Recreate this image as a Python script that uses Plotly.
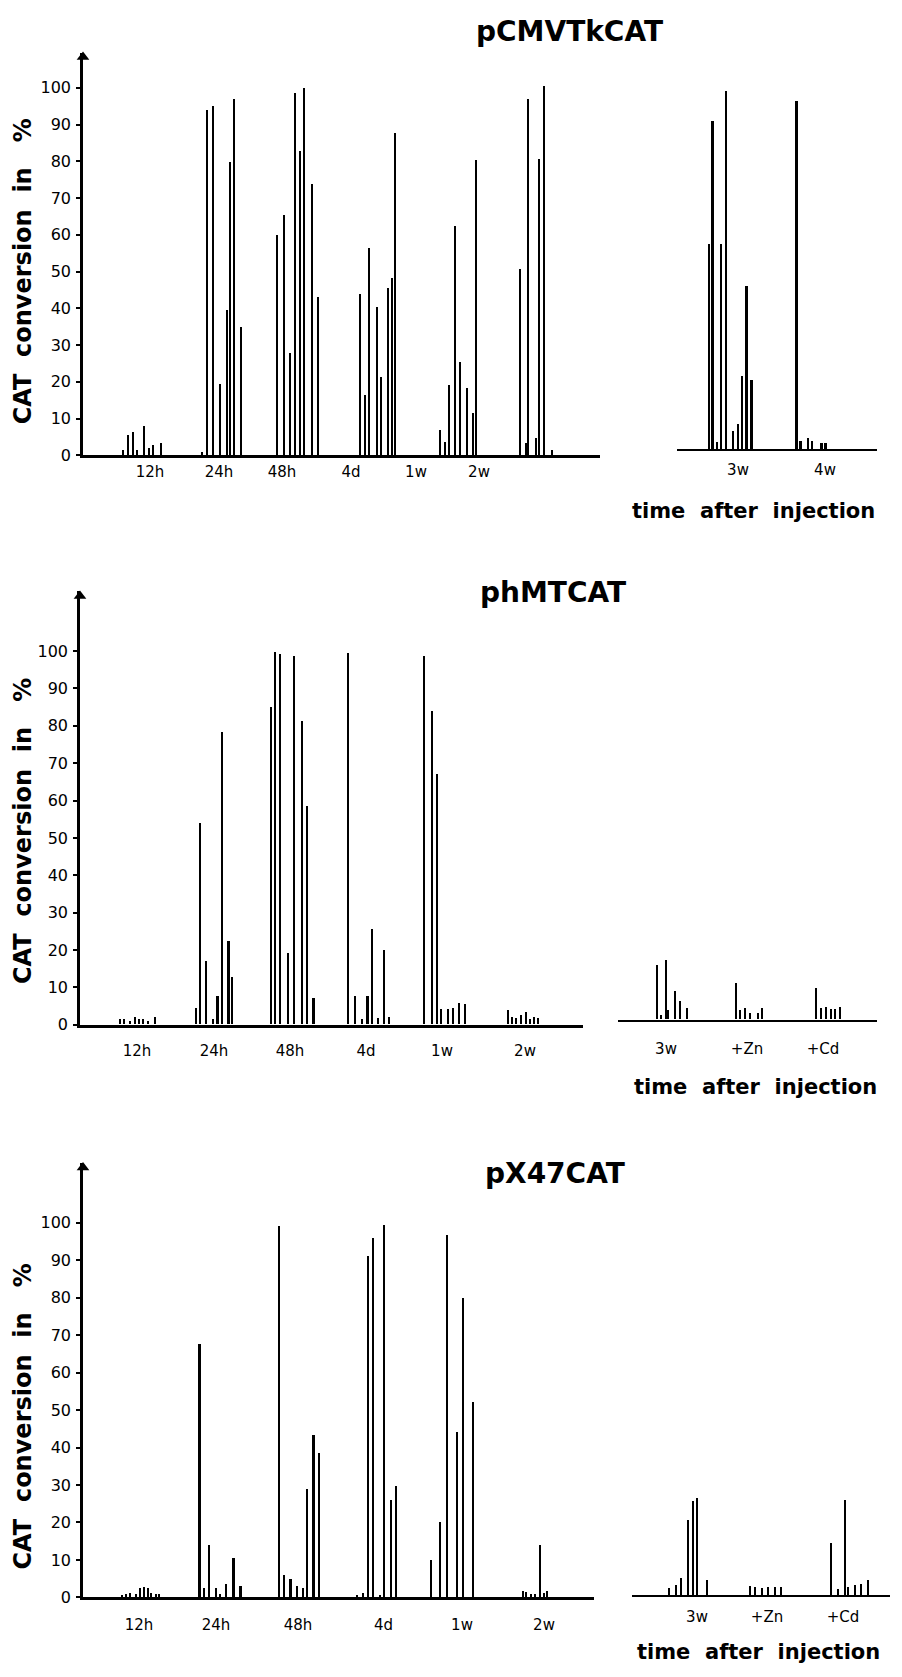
import plotly.graph_objects as go

# ---------------- DATA ----------------
# Panel 1: pCMVTkCAT  (positions = sample position along axis, values = % CAT conversion)
p1_title = "pCMVTkCAT"
p1_main_pos = [40, 45, 50, 54, 61, 66, 70, 78,
               119, 124, 130, 137, 144, 147, 151, 158,
               194, 201, 207, 212, 217, 221, 229, 235,
               277, 282, 286, 294, 298, 305, 309, 312,
               357, 362, 366, 372, 377, 384, 390, 393,
               437, 443, 445, 453, 456, 461, 469]
p1_main_val = [1.5, 5.5, 6.5, 1.5, 8, 2, 3, 3.5,
               1, 94, 95, 19.5, 39.5, 80, 97, 35,
               60, 65.5, 28, 98.6, 83, 100, 74, 43.2,
               44, 16.4, 56.6, 40.5, 21.4, 45.7, 48.2, 87.7,
               7, 3.6, 19.2, 62.5, 25.4, 18.5, 11.5, 80.5,
               50.8, 3.4, 97, 4.7, 80.8, 100.5, 1.4]
p1_main_labels = ["12h", "24h", "48h", "4d", "1w", "2w"]
p1_main_label_pos = [67, 136, 199, 268, 333, 396]
p1_right_pos = [32, 35.7, 40, 44, 49, 56, 61, 65, 69.7, 74.7,
                119.7, 123.7, 131, 135, 144.7, 148.7]
p1_right_val = [56, 89.5, 2, 56, 97.5, 5, 7, 20, 44.5, 19,
                95, 2.3, 3.2, 2.3, 1.8, 1.8]
p1_right_labels = ["3w", "4w"]
p1_right_label_pos = [61, 148]

# Panel 2: phMTCAT
p2_title = "phMTCAT"
p2_main_pos = [40, 44, 50, 55, 59, 63, 68, 75,
               116, 120, 126, 133, 137.5, 142, 148.5, 152,
               191, 195, 200, 208, 214, 222, 227, 233.5,
               268, 275, 282, 287.5, 292, 298, 304, 309,
               344, 352, 357, 361, 368, 373, 379, 385,
               428, 432, 436, 441, 446, 450, 454, 458]
p2_main_val = [1.5, 1.5, 1, 2, 1.5, 1.5, 1, 2,
               4.5, 54, 17, 1.5, 7.5, 78.3, 22.2, 12.7,
               85, 99.7, 99.1, 19, 98.5, 81.2, 58.5, 7,
               99.3, 7.5, 1.5, 7.5, 25.4, 1.6, 20, 2,
               98.7, 83.8, 67.1, 4, 4, 4.3, 5.7, 5.5,
               3.8, 1.9, 1.7, 2.4, 3.3, 1.4, 1.9, 1.6]
p2_main_labels = ["12h", "24h", "48h", "4d", "1w", "2w"]
p2_main_label_pos = [57, 134, 210, 286, 362, 445]
p2_right_pos = [39, 43, 48, 50, 57, 62, 69,
                118, 122, 127, 132, 140, 144,
                198, 203, 208, 213, 217, 222]
p2_right_val = [14.5, 1.2, 16, 2.5, 7.5, 5, 3,
                9.8, 2.5, 3, 1.6, 1.6, 3,
                8.5, 3.1, 3.4, 2.8, 2.8, 3.2]
p2_right_labels = ["3w", "+Zn", "+Cd"]
p2_right_label_pos = [48, 129, 205]

# Panel 3: pX47CAT
p3_title = "pX47CAT"
p3_main_pos = [39, 43, 47, 53, 57, 61, 65, 68, 73, 76,
               116.6, 121, 126, 133, 137, 143, 150.6, 157.7,
               196, 201, 207.5, 214, 220, 224, 230.5, 236,
               274, 280, 285, 290, 297, 301, 308, 313,
               348, 357, 364, 374, 380, 390,
               440, 443, 448, 452, 457, 461, 464]
p3_main_val = [0.7, 0.9, 1.2, 1, 2.5, 2.7, 2.5, 1.3, 0.8, 0.8,
               67.5, 2.5, 14, 2.5, 0.8, 3.5, 10.5, 3,
               99.1, 6, 5, 3, 2.5, 29, 43.4, 38.4,
               0.6, 1.2, 91, 95.8, 0.7, 99.3, 25.9, 29.7,
               10, 20, 96.7, 44.1, 80, 52.2,
               1.8, 1.5, 0.8, 1, 14, 1.2, 1.8]
p3_main_labels = ["12h", "24h", "48h", "4d", "1w", "2w"]
p3_main_label_pos = [56, 133, 215, 300.5, 379, 461]
p3_right_pos = [37, 44, 49, 56, 61, 65, 75,
                118, 123, 130, 136, 143, 149,
                199, 206, 213, 216, 223, 229, 236]
p3_right_val = [2, 2.7, 4.7, 20.2, 25.2, 25.9, 4,
                2.5, 2.2, 2, 2.2, 2.2, 2.2,
                14.1, 1.6, 25.4, 2.2, 2.8, 3, 4]
p3_right_labels = ["3w", "+Zn", "+Cd"]
p3_right_label_pos = [65, 135, 211]

y_tick_vals = [0, 10, 20, 30, 40, 50, 60, 70, 80, 90, 100]
y_title = "CAT  conversion  in   %"
x_title = "time  after  injection"

# ---------------- LAYOUT GEOMETRY (pixels) ----------------
W, H = 902, 1677
FONT = "DejaVu Sans"

panels = [
    dict(title=p1_title, mp=p1_main_pos, mv=p1_main_val, ml=p1_main_labels, mlp=p1_main_label_pos,
         rp=p1_right_pos, rv=p1_right_val, rl=p1_right_labels, rlp=p1_right_label_pos,
         ox=83, top=53, base=458, y100=88.3, mend=600, rx0=677, rx1=877, rbase=452,
         tstand=1, rtstand=6, title_xy=(569, 32), xt_xy=(753, 514), yt_y=273),
    dict(title=p2_title, mp=p2_main_pos, mv=p2_main_val, ml=p2_main_labels, mlp=p2_main_label_pos,
         rp=p2_right_pos, rv=p2_right_val, rl=p2_right_labels, rlp=p2_right_label_pos,
         ox=80, top=595, base=1031, y100=655, mend=583, rx0=618, rx1=877, rbase=1026,
         tstand=10, rtstand=14, title_xy=(553, 596), xt_xy=(755, 1094), yt_y=836),
    dict(title=p3_title, mp=p3_main_pos, mv=p3_main_val, ml=p3_main_labels, mlp=p3_main_label_pos,
         rp=p3_right_pos, rv=p3_right_val, rl=p3_right_labels, rlp=p3_right_label_pos,
         ox=83, top=1170, base=1607, y100=1230, mend=594, rx0=632, rx1=890, rbase=1605,
         tstand=12, rtstand=6, title_xy=(555, 1181), xt_xy=(758, 1662), yt_y=1425),
]


def fx(px):
    return px / W


def fy(py):
    return 1 - py / H


fig = go.Figure()
layout = dict(width=W, height=H, margin=dict(l=0, r=0, t=0, b=0), autosize=False,
              plot_bgcolor="white", paper_bgcolor="white", showlegend=False,
              bargap=0, annotations=[])

for i, p in enumerate(panels):
    k_main = 2 * i + 1
    k_right = 2 * i + 2
    xm = "x" if k_main == 1 else f"x{k_main}"
    ym = "y" if k_main == 1 else f"y{k_main}"
    xr = f"x{k_right}"
    yr = f"y{k_right}"
    ppu = (p["base"] - p["y100"]) / 100.0  # pixels per percent
    ymax = (p["base"] - p["top"]) / ppu
    rymax = (p["rbase"] - p["top"]) / ppu

    fig.add_trace(go.Bar(x=p["mp"], y=p["mv"], width=2.7, xaxis=xm, yaxis=ym,
                         marker=dict(color="black", line=dict(width=0))))
    fig.add_trace(go.Bar(x=p["rp"], y=p["rv"], width=2.7, xaxis=xr, yaxis=yr,
                         marker=dict(color="black", line=dict(width=0))))
    # arrow head on top of the y axis
    fig.add_trace(go.Scatter(x=[0], y=[ymax - 1.2], xaxis=xm, yaxis=ym, mode="markers",
                             cliponaxis=False, hoverinfo="skip",
                             marker=dict(symbol="triangle-up", size=11, color="black")))

    xname_m = "xaxis" if k_main == 1 else f"xaxis{k_main}"
    yname_m = "yaxis" if k_main == 1 else f"yaxis{k_main}"
    layout[xname_m] = dict(domain=[fx(p["ox"]), fx(p["mend"])], range=[0, p["mend"] - p["ox"]],
                           anchor=ym, showline=True, linewidth=2.5, linecolor="black",
                           showgrid=False, zeroline=False, ticks="",
                           tickvals=p["mlp"], ticktext=p["ml"], ticklabelstandoff=p["tstand"],
                           tickfont=dict(family=FONT, size=15, color="black"), fixedrange=True)
    layout[yname_m] = dict(domain=[fy(p["base"]), fy(p["top"])], range=[0, ymax],
                           anchor=xm, showline=True, linewidth=2.5, linecolor="black",
                           showgrid=False, zeroline=False, ticks="outside", ticklen=4,
                           tickwidth=1.5, tickcolor="black", tickvals=y_tick_vals,
                           ticklabelstandoff=2,
                           tickfont=dict(family=FONT, size=16, color="black"), fixedrange=True)
    layout[f"xaxis{k_right}"] = dict(domain=[fx(p["rx0"]), fx(p["rx1"])],
                                     range=[0, p["rx1"] - p["rx0"]],
                                     anchor=yr, showline=True, linewidth=2.2, linecolor="black",
                                     showgrid=False, zeroline=False, ticks="",
                                     tickvals=p["rlp"], ticktext=p["rl"],
                                     ticklabelstandoff=p["rtstand"],
                                     tickfont=dict(family=FONT, size=15, color="black"),
                                     fixedrange=True)
    layout[f"yaxis{k_right}"] = dict(domain=[fy(p["rbase"]), fy(p["top"])], range=[0, rymax],
                                     anchor=xr, visible=False, showgrid=False, zeroline=False,
                                     fixedrange=True)

    layout["annotations"] += [
        dict(text=f"<b>{p['title']}</b>", xref="paper", yref="paper",
             x=fx(p["title_xy"][0]), y=fy(p["title_xy"][1]), showarrow=False,
             xanchor="center", yanchor="middle",
             font=dict(family=FONT, size=28, color="black")),
        dict(text=f"<b>{x_title}</b>", xref="paper", yref="paper",
             x=fx(p["xt_xy"][0]), y=fy(p["xt_xy"][1]), showarrow=False,
             xanchor="center", yanchor="middle",
             font=dict(family=FONT, size=21, color="black")),
        dict(text=f"<b>{y_title}</b>", xref="paper", yref="paper",
             x=fx(23), y=fy(p["yt_y"]), showarrow=False, textangle=-90,
             xanchor="center", yanchor="middle",
             font=dict(family=FONT, size=24, color="black")),
    ]

fig.update_layout(**layout)
fig.write_html("out.html", config={"displayModeBar": False},
               post_script="document.body.style.margin='0';")
